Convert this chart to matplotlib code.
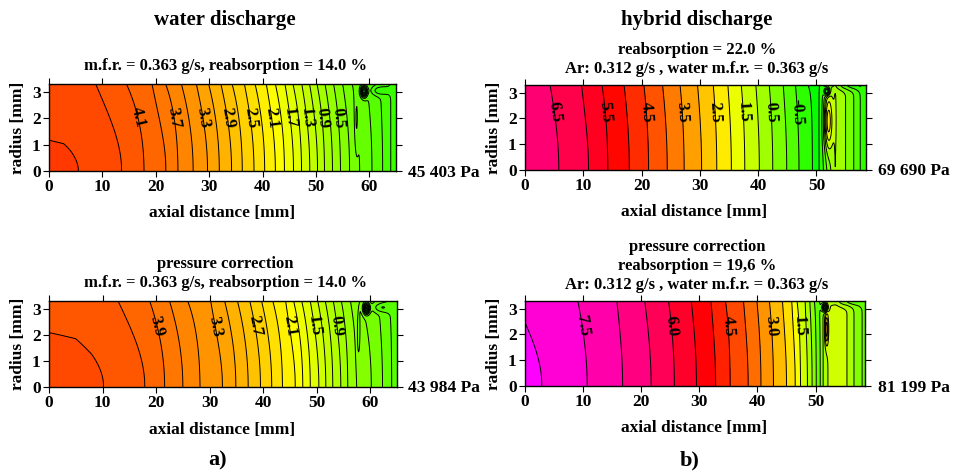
import sys
import numpy as np
import matplotlib
matplotlib.use('Agg')
import matplotlib.pyplot as plt
from matplotlib.colors import LinearSegmentedColormap, Normalize, hsv_to_rgb

plt.rcParams['font.family'] = ['Liberation Serif', 'DejaVu Serif']
plt.rcParams['font.weight'] = 'bold'
plt.rcParams['contour.negative_linestyle'] = 'solid'

# ------------------------------------------------------------------ data
# Pressure (10^4 Pa relative) read where each contour meets the axis (r=0)
# and the wall (r=R); local features: (x0, r0, amplitude, sx, sr)
R_TUBE = 3.3

a1_axis_x = [0, 2.75, 5.5, 13.6, 17.8, 21.9, 24.15, 27.0, 29.7, 31.9, 34.2, 36.2, 38.4, 40.4, 42.4,
             44.1, 45.8, 47.3, 48.85, 50.3, 51.6, 53.1, 54.6, 56.3, 58.2, 60.5, 62.5, 64.0, 65.0]
a1_axis_p = [4.52, 4.516, 4.5, 4.3, 4.1, 3.9, 3.7, 3.5, 3.3, 3.1, 2.9, 2.7, 2.5, 2.3, 2.1,
             1.9, 1.7, 1.5, 1.3, 1.1, 0.9, 0.7, 0.5, 0.3, 0.1, -0.1, -0.3, -0.5, -0.56]
a1_wall_x = [0, 4.0, 8.75, 14.5, 19.3, 21.85, 24.8, 27.6, 29.9, 32.2, 34.3, 36.6, 38.6, 40.7, 42.4,
             44.2, 45.7, 47.35, 48.8, 50.2, 51.7, 53.3, 55.0, 56.8, 59.5, 62.0, 64.0, 65.0]
a1_wall_p = [4.36, 4.35, 4.3, 4.1, 3.9, 3.7, 3.5, 3.3, 3.1, 2.9, 2.7, 2.5, 2.3, 2.1, 1.9,
             1.7, 1.5, 1.3, 1.1, 0.9, 0.7, 0.5, 0.3, 0.1, -0.1, -0.3, -0.5, -0.56]
a1_features = [(59.0, 3.02, -1.6, 0.55, 0.2), (57.6, 1.9, -0.25, 0.35, 1.1),
               (61.8, 3.05, -0.35, 1.6, 0.18)]
a1_label_levels = [4.1, 3.7, 3.3, 2.9, 2.5, 2.1, 1.7, 1.3, 0.9, 0.5]
a1_label_x = [15.6, 23.3, 28.9, 33.5, 37.7, 41.8, 45.2, 48.3, 51.1, 54.1]

a2_axis_x = [0, 5.0, 8.0, 10.2, 17.9, 21.6, 25.0, 28.2, 32.4, 34.9, 37.2, 39.5, 41.6, 43.6, 46.0,
             47.4, 48.8, 50.4, 51.7, 53.0, 54.5, 55.8, 57.5, 60.2, 62.3, 64.0, 65.0]
a2_axis_p = [4.36, 4.346, 4.323, 4.3, 4.1, 3.9, 3.7, 3.5, 3.3, 3.1, 2.9, 2.7, 2.5, 2.3, 2.1,
             1.9, 1.7, 1.5, 1.3, 1.1, 0.9, 0.7, 0.5, 0.3, 0.1, -0.1, -0.18]
a2_wall_x = [0, 5.0, 12.9, 18.8, 22.5, 25.9, 30.2, 32.8, 35.2, 37.5, 39.7, 41.8, 44.2, 45.7,
             47.2, 48.8, 50.2, 51.6, 53.1, 54.6, 56.3, 58.3, 61.5, 63.5, 65.0]
a2_wall_p = [4.21, 4.2, 4.1, 3.9, 3.7, 3.5, 3.3, 3.1, 2.9, 2.7, 2.5, 2.3, 2.1, 1.9,
             1.7, 1.5, 1.3, 1.1, 0.9, 0.7, 0.5, 0.3, 0.1, -0.1, -0.18]
a2_features = [(59.3, 3.02, -1.6, 0.55, 0.2), (57.8, 1.9, -0.2, 0.35, 1.1),
               (62.0, 3.05, -0.35, 1.6, 0.18)]
a2_label_levels = [3.9, 3.3, 2.7, 2.1, 1.5, 0.9]
a2_label_x = [20.2, 31.3, 38.5, 45.1, 49.6, 53.8]

b1_axis_x = [0, 5.8, 10.9, 14.2, 17.9, 21.2, 24.4, 27.3, 30.3, 32.9, 35.4, 37.7, 40.2,
             42.5, 44.9, 47.0, 49.3, 50.3, 51.4, 53.2, 55.0, 56.4, 57.5, 58.5]
b1_axis_p = [6.95, 6.5, 6.0, 5.5, 5.0, 4.5, 4.0, 3.5, 3.0, 2.5, 2.0, 1.5, 1.0,
             0.5, 0.0, -0.5, -1.0, -1.1, -0.4, 1.0, 0.5, 0.0, -0.5, -0.6]
b1_wall_x = [0, 4.3, 9.7, 13.2, 17.0, 20.4, 23.6, 26.6, 29.6, 32.3, 34.8, 37.1, 39.6,
             41.9, 44.3, 46.4, 48.6, 50.3, 51.4, 53.2, 55.0, 56.4, 57.5, 58.5]
b1_wall_p = [6.92, 6.5, 6.0, 5.5, 5.0, 4.5, 4.0, 3.5, 3.0, 2.5, 2.0, 1.5, 1.0,
             0.5, 0.0, -0.5, -1.0, -1.1, -0.4, 1.0, 0.5, 0.0, -0.5, -0.6]
b1_features = [(51.8, 3.05, -3.0, 0.45, 0.15), (52.0, 1.9, 2.2, 0.7, 1.1),
               (55.5, 3.3, -0.9, 2.8, 0.2)]
b1_label_levels = [6.5, 5.5, 4.5, 3.5, 2.5, 1.5, 0.5, -0.5]
b1_label_x = [4.9, 13.7, 20.8, 27.0, 32.6, 37.4, 42.2, 46.7]

b2_axis_x = [0, 2.9, 10.7, 16.8, 21.7, 25.7, 29.5, 32.8, 35.3, 38.4, 40.6, 42.75, 45.0,
             46.5, 47.4, 48.6, 49.4, 50.1, 50.6, 51.3, 52.1, 53.5, 55.4, 56.6, 58.0, 58.5]
b2_axis_p = [8.1, 8.0, 7.5, 7.0, 6.5, 6.0, 5.5, 5.0, 4.5, 4.0, 3.5, 3.0, 2.5,
             2.0, 1.5, 1.0, 0.5, 0.0, -0.2, 0.5, 1.0, 1.3, 1.0, 0.5, 0.0, -0.1]
b2_wall_x = [0, 9.1, 15.8, 20.6, 24.7, 28.6, 32.0, 34.5, 37.6, 39.9, 42.05, 44.3, 45.9,
             46.8, 48.2, 49.0, 49.8, 50.4, 51.3, 52.1, 53.5, 55.4, 56.6, 58.0, 58.5]
b2_wall_p = [7.92, 7.5, 7.0, 6.5, 6.0, 5.5, 5.0, 4.5, 4.0, 3.5, 3.0, 2.5, 2.0,
             1.5, 1.0, 0.5, 0.0, -0.2, 0.5, 1.0, 1.3, 1.0, 0.5, 0.0, -0.1]
b2_features = [(51.6, 3.05, -3.5, 0.45, 0.15), (51.9, 2.2, 2.0, 0.3, 0.6),
               (55.5, 3.3, -1.0, 2.5, 0.2)]
b2_label_levels = [7.5, 6.0, 4.5, 3.0, 1.5]
b2_label_x = [9.7, 25.2, 34.9, 42.4, 47.1]

# ------------------------------------------------------------------ helpers
def build_field(ax_x, ax_p, w_x, w_p, feats, xmax):
    x = np.linspace(0, xmax, 700)
    r = np.linspace(0, R_TUBE, 220)
    X, RR = np.meshgrid(x, r)
    pa = np.interp(x, ax_x, ax_p)
    pw = np.interp(x, w_x, w_p)
    f = (r / R_TUBE) ** 2
    P = pa[None, :] + (pw - pa)[None, :] * f[:, None]
    for (x0, r0, amp, sx, sr) in feats:
        P = P + amp * np.exp(-((X - x0) / sx) ** 2 - ((RR - r0) / sr) ** 2)
    return X, RR, P


def hue_of(v):
    h = 60.0 - (v - 2.0) * 18.0
    if v > 6.0:
        h = -12.0 - (v - 6.0) * 20.0
    h = min(h, 125.0)
    return (h % 360.0) / 360.0


VMIN, VMAX = -5.0, 9.5
vals = np.linspace(VMIN, VMAX, 512)
cols = [hsv_to_rgb((hue_of(v), 1.0, 1.0)) for v in vals]
cmap = LinearSegmentedColormap.from_list('pres', cols, N=512)

FS_TICK = 12.5
FS_LAB = 12


def fallback_label(ax, cs, idx, lev, x, r):
    path = cs.get_paths()[idx]
    v = path.vertices
    if len(v) == 0:
        return
    pix = ax.transData.transform(v)
    tgt = ax.transData.transform((x, r))
    k = int(np.argmin(((pix - tgt) ** 2).sum(axis=1)))
    k0, k1 = max(k - 2, 0), min(k + 2, len(v) - 1)
    d = pix[k1] - pix[k0]
    ang = np.degrees(np.arctan2(d[1], d[0])) % 180
    if 0 < ang < 180:
        ang = ang + 180
    ax.text(v[k, 0], v[k, 1], '%.1f' % lev, rotation=ang, ha='center', va='center',
            rotation_mode='anchor', fontsize=FS_LAB, fontweight='bold')


def draw_panel(rect, data, step, xmax, xticks, lab_levels, lab_x, lab_r, cshift=0.0):
    ax = fig.add_axes(rect)
    X, RR, P = build_field(*data, xmax)
    base = lab_levels[0]
    lo = base - step * (np.ceil((base - P.min()) / step) + 1)
    hi = base + step * (np.ceil((P.max() - base) / step) + 1)
    levels = np.round(np.arange(lo, hi + step / 2, step), 2)
    norm = Normalize(VMIN - cshift, VMAX - cshift)
    ax.contourf(X, RR, P, levels=levels, cmap=cmap, norm=norm)
    cs = ax.contour(X, RR, P, levels=levels, colors='k', linewidths=0.7,
                    linestyles='solid')
    ax.set_xlim(0, xmax)
    ax.set_ylim(0, R_TUBE)
    for lev, xx in zip(lab_levels, lab_x):
        idx = int(np.argmin(np.abs(np.asarray(cs.levels) - lev)))
        try:
            texts = cs.clabel([cs.levels[idx]], manual=[(xx, lab_r)], inline=True,
                              inline_spacing=2, fmt='%.1f', fontsize=FS_LAB)
            for t in texts:
                rot = t.get_rotation() % 360
                if 0 < rot < 180:
                    t.set_rotation(rot + 180)
                t.set_fontweight('bold')
        except Exception as e:
            print('clabel failed', lev, repr(e), file=sys.stderr)
            fallback_label(ax, cs, idx, lev, xx, lab_r)
    ax.set_xticks(xticks)
    ax.set_yticks([0, 1, 2, 3])
    ax.tick_params(direction='out', top=True, right=True, length=4, width=0.8,
                   labelsize=FS_TICK, pad=2)
    for lab in ax.get_xticklabels() + ax.get_yticklabels():
        lab.set_fontweight('bold')
    for s in ax.spines.values():
        s.set_linewidth(1.0)
    return ax


W, H = 955, 474
fig = plt.figure(figsize=(W / 100, H / 100), dpi=100)


def frect(x0, y0, x1, y1):
    return [x0 / W, 1 - y1 / H, (x1 - x0) / W, (y1 - y0) / H]


def ftext(x, y, s, size, **kw):
    fig.text(x / W, 1 - y / H, s, fontsize=size, fontweight='bold', ha='center', va='center', **kw)


ax1 = draw_panel(frect(49, 84, 396, 171),
                 (a1_axis_x, a1_axis_p, a1_wall_x, a1_wall_p, a1_features), 0.2, 65.0,
                 [0, 10, 20, 30, 40, 50, 60], a1_label_levels, a1_label_x, 2.0)
ax2 = draw_panel(frect(49, 301, 397, 387),
                 (a2_axis_x, a2_axis_p, a2_wall_x, a2_wall_p, a2_features), 0.2, 65.0,
                 [0, 10, 20, 30, 40, 50, 60], a2_label_levels, a2_label_x, 2.34)
ax3 = draw_panel(frect(525, 85, 866, 170),
                 (b1_axis_x, b1_axis_p, b1_wall_x, b1_wall_p, b1_features), 0.5, 58.5,
                 [0, 10, 20, 30, 40, 50], b1_label_levels, b1_label_x, 2.26)
ax4 = draw_panel(frect(525, 301, 865, 386),
                 (b2_axis_x, b2_axis_p, b2_wall_x, b2_wall_p, b2_features), 0.5, 58.5,
                 [0, 10, 20, 30, 40, 50], b2_label_levels, b2_label_x, 2.33, cshift=0.15)

# titles
ftext(225, 20, 'water discharge', 15)
ftext(697, 20, 'hybrid discharge', 15)
ftext(225, 66, 'm.f.r. = 0.363 g/s, reabsorption = 14.0 %', 12)
ftext(697, 50, 'reabsorption = 22.0 %', 12)
ftext(697, 69, 'Ar: 0.312 g/s , water m.f.r. = 0.363 g/s', 12)
ftext(225, 264, 'pressure correction', 12)
ftext(225, 283, 'm.f.r. = 0.363 g/s, reabsorption = 14.0 %', 12)
ftext(697, 247, 'pressure correction', 12)
ftext(697, 266, 'reabsorption = 19,6 %', 12)
ftext(697, 285, 'Ar: 0.312 g/s , water m.f.r. = 0.363 g/s', 12)

# axis labels
for (cx, cy) in [(222, 213), (222, 430), (694, 212), (694, 428)]:
    ftext(cx, cy, 'axial distance [mm]', 12.5)
for (cx, cy) in [(18, 128), (18, 344), (494, 128), (494, 344)]:
    ftext(cx, cy, 'radius [mm]', 12.5, rotation=90)

# reference pressures
for (lx, cy, s) in [(408, 173, '45 403 Pa'), (408, 388, '43 984 Pa'),
                    (878, 171, '69 690 Pa'), (878, 388, '81 199 Pa')]:
    fig.text(lx / W, 1 - cy / H, s, fontsize=12.5, fontweight='bold', ha='left', va='center')

ftext(218, 460, 'a)', 16)
ftext(690, 460, 'b)', 16)

fig.savefig('out.png', dpi=100)
